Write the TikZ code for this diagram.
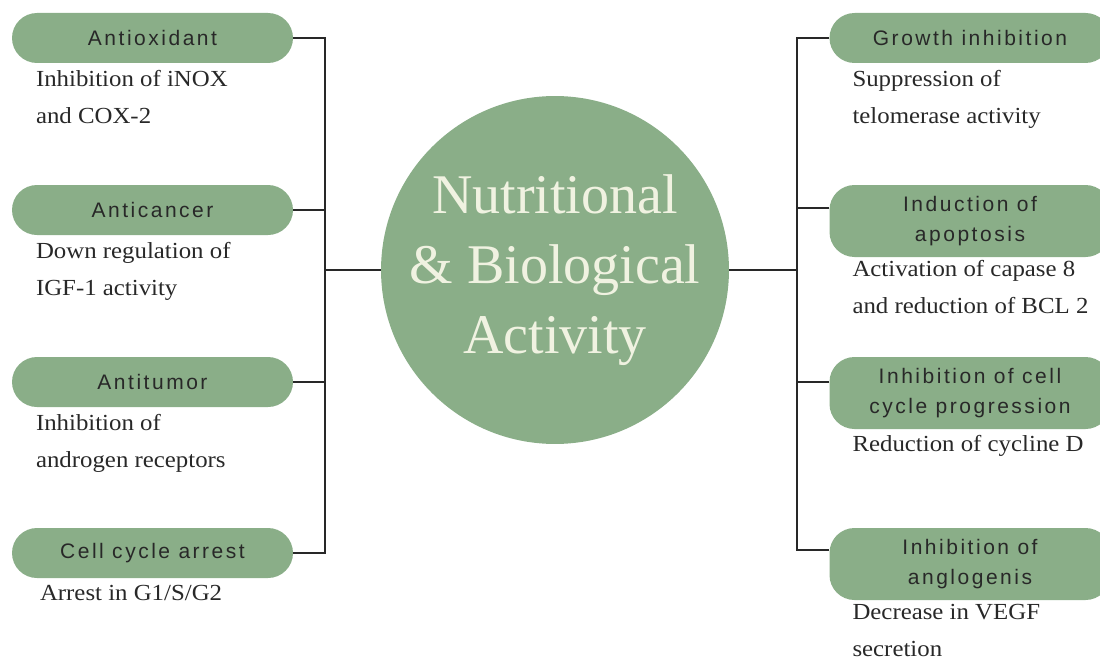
\documentclass[tikz,border=0pt]{standalone}
\usepackage{fontspec}
\setmainfont{Liberation Serif}
\newfontfamily\pillfont[LetterSpace=12]{Liberation Sans}
\newfontfamily\descfont[FakeStretch=1.08]{Liberation Serif}
\usetikzlibrary{positioning}
\definecolor{sage}{RGB}{138,174,136}
\definecolor{ink}{RGB}{40,40,40}
\definecolor{cream}{RGB}{240,242,225}

\begin{document}
\begin{tikzpicture}[
    x=1pt, y=-1pt,
    % Node styles
    pill/.style={rectangle, rounded corners=25pt, fill=sage, minimum width=281pt, minimum height=50pt, align=center, text=ink, inner sep=0pt, font=\pillfont\fontsize{21}{30}\selectfont},
    tallpill/.style={pill, minimum height=72pt},
    desc/.style={align=left, inner sep=0pt, text=ink, font=\descfont\fontsize{23}{37}\selectfont},
    link/.style={line width=2pt, draw=ink},
]
\useasboundingbox (0,0) rectangle (1100,661);

% ============================================================================
% CENTRE
% ============================================================================
\node[circle, fill=sage, minimum size=340pt, inner sep=0pt, align=center, text=cream,
      font=\fontsize{56}{70}\selectfont] (hub) at (555,270) {Nutritional\\ \& Biological\\ Activity};

\coordinate (lbus) at (325,270);
\coordinate (rbus) at (797,270);

% ============================================================================
% LEFT BRANCH
% ============================================================================
\node[pill] (aox) at (152.5,38) {Antioxidant};
\node[desc, below right=7pt and 24pt of aox.south west] {Inhibition of iNOX\\ and COX-2};

\node[pill] (acan) at (152.5,210) {Anticancer};
\node[desc, below right=7pt and 24pt of acan.south west] {Down regulation of\\ IGF-1 activity};

\node[pill] (atum) at (152.5,382) {Antitumor};
\node[desc, below right=7pt and 24pt of atum.south west] {Inhibition of\\ androgen receptors};

\node[pill] (carr) at (152.5,553) {Cell cycle arrest};
\node[desc, below right=7pt and 28pt of carr.south west] {Arrest in G1/S/G2};

\draw[link] (aox.east) -| (lbus);
\draw[link] (acan.east) -| (lbus);
\draw[link] (atum.east) -| (lbus);
\draw[link] (carr.east) -| (lbus);
\draw[link] (lbus) -- (hub);

% ============================================================================
% RIGHT BRANCH
% ============================================================================
\node[pill] (gro) at (970,38) {Growth inhibition};
\node[desc, below right=7pt and 23pt of gro.south west] {Suppression of\\ telomerase activity};

\node[tallpill] (apo) at (970,221) {Induction of\\ apoptosis};
\node[desc, below right=3pt and 23pt of apo.south west] {Activation of capase 8\\ and reduction of BCL 2};

\node[tallpill] (ccp) at (970,393) {Inhibition of cell\\ cycle progression};
\node[desc, below right=6pt and 23pt of ccp.south west] {Reduction of cycline D};

\node[tallpill] (ang) at (970,564) {Inhibition of\\ anglogenis};
\node[desc, below right=4pt and 23pt of ang.south west] {Decrease in VEGF\\ secretion};

\draw[link] (gro.west) -| (rbus);
\draw[link] ([yshift=13pt]apo.west) -| (rbus);
\draw[link] ([yshift=11pt]ccp.west) -| (rbus);
\draw[link] ([yshift=14pt]ang.west) -| (rbus);
\draw[link] (hub) -- (rbus);

\end{tikzpicture}
\end{document}
